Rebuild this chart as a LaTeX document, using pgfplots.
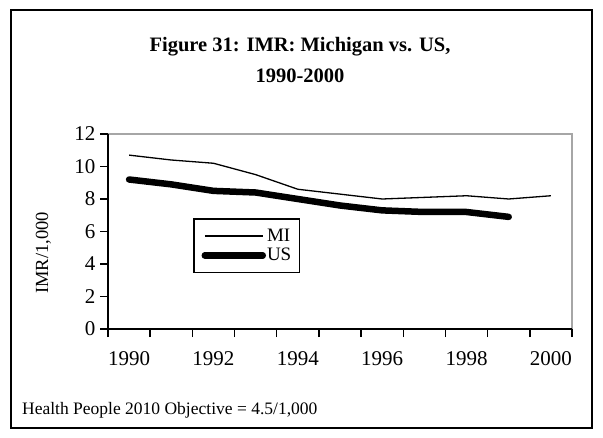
\documentclass[border=0pt]{standalone}
\usepackage{fontspec}
\setmainfont{Liberation Serif}
\usepackage{pgfplots}
\pgfplotsset{compat=1.18}
\begin{document}
\begin{tikzpicture}[x=1pt,y=1pt]
\path[use as bounding box] (0,0) rectangle (603,437);
\draw[line width=1.5pt] (11,9) rectangle (592,427);
\node[font=\fontsize{20.5}{24}\selectfont\bfseries] at (300,390) {Figure 31: IMR: Michigan vs. US,};
\node[font=\fontsize{20.5}{24}\selectfont\bfseries] at (300,361) {1990-2000};
\node[font=\fontsize{17.5}{21}\selectfont, anchor=base west, inner sep=0] at (22,23) {Health People 2010 Objective = 4.5/1,000};
\begin{axis}[
  at={(108pt,108pt)}, anchor=south west,
  scale only axis, width=464pt, height=195pt,
  xmin=1989.5, xmax=2000.5, ymin=0, ymax=12,
  xtick={1989.5,1990.5,1991.5,1992.5,1993.5,1994.5,1995.5,1996.5,1997.5,1998.5,1999.5,2000.5},
  xticklabels={},
  extra x ticks={1990,1992,1994,1996,1998,2000},
  extra x tick labels={1990,1992,1994,1996,1998,2000},
  extra x tick style={major tick length=0pt, xticklabel style={yshift=-19pt}},
  ytick={0,2,4,6,8,10,12},
  xtick pos=left, ytick pos=left,
  tick align=outside,
  major tick length=8pt,
  tick style={black, line width=1.5pt},
  axis line style={draw=none},
  ticklabel style={font=\fontsize{21}{24}\selectfont},
  yticklabel style={xshift=-1pt},
  /pgf/number format/assume math mode=true,
  ylabel={IMR/1,000},
  ylabel style={at={(axis description cs:-0.139,0.39)}, anchor=center, font=\fontsize{18.5}{20}\selectfont},
  legend style={at={(axis description cs:0.184,0.568)}, anchor=north west, draw=black, line width=1.3pt,
    font=\fontsize{19}{21}\selectfont, inner xsep=7.5pt, inner ysep=9pt, row sep=3.5pt,
    nodes={inner xsep=1pt, inner ysep=1pt}},
  legend cell align=left,
  legend image code/.code={\draw[#1] (0pt,0pt) -- (58pt,0pt);},
  clip=false,
]
\addplot[black, line width=1.3pt, line join=round] coordinates {
 (1990,10.7) (1991,10.4) (1992,10.2) (1993,9.5) (1994,8.6) (1995,8.3)
 (1996,8.0) (1997,8.1) (1998,8.2) (1999,8.0) (2000,8.2)};
\addlegendentry{MI}
\addplot[black, line width=6.5pt, line cap=round, line join=round] coordinates {
 (1990,9.2) (1991,8.9) (1992,8.5) (1993,8.4) (1994,8.0) (1995,7.6)
 (1996,7.3) (1997,7.2) (1998,7.2) (1999,6.9)};
\addlegendentry{US}
\draw[gray!70, line width=1.5pt] (rel axis cs:0,1) -- (rel axis cs:1,1) -- (rel axis cs:1,0);
\draw[black, line width=1.5pt] (rel axis cs:0,1) -- (rel axis cs:0,0) -- (rel axis cs:1,0);
\end{axis}
\end{tikzpicture}
\end{document}
